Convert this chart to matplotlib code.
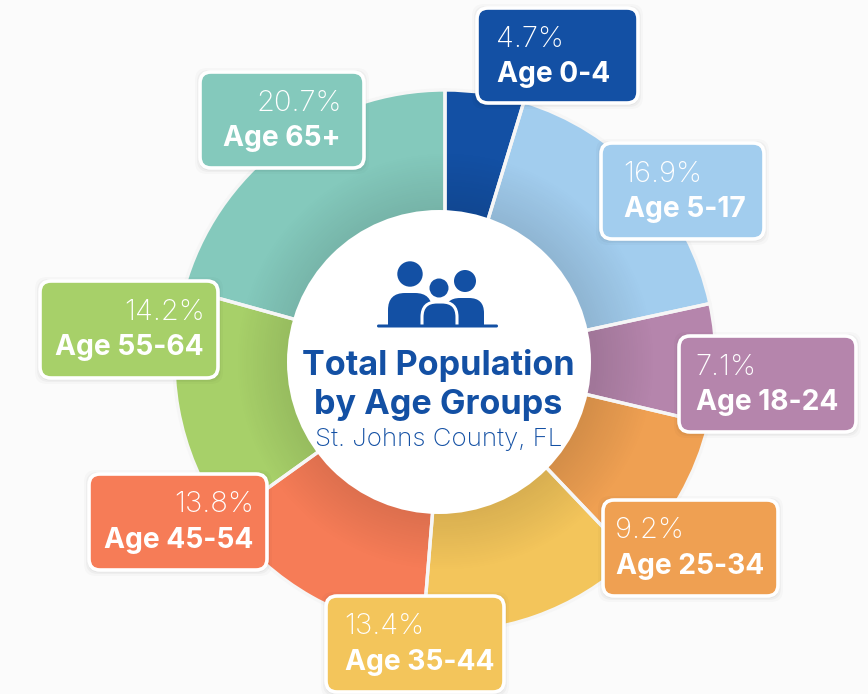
import numpy as np
import matplotlib
matplotlib.use("Agg")
import matplotlib.pyplot as plt
from matplotlib.patches import Circle, FancyBboxPatch
from matplotlib.path import Path
from matplotlib.patches import PathPatch

plt.rcParams['font.family'] = ['Inter', 'DejaVu Sans']

# data, clockwise from the top
groups = ["Age 0-4", "Age 5-17", "Age 18-24", "Age 25-34", "Age 35-44", "Age 45-54", "Age 55-64", "Age 65+"]
shares = [4.7, 16.9, 7.1, 9.2, 13.4, 13.8, 14.2, 20.7]
colors = ["#1350A4", "#A2CDEE", "#B585AC", "#EFA052", "#F3C55B", "#F67C57", "#A7D069", "#84C9BC"]

# label boxes in pixels: left, top, right, bottom, text x, text side
boxes = [
    (477, 8, 638, 103, 497, "left"),
    (601, 143, 764, 239, 624, "left"),
    (679, 336, 856, 432, 696, "left"),
    (603, 500, 778, 596, 616, "left"),
    (326, 596, 504, 692, 345, "left"),
    (89, 474, 267, 570, 253, "right"),
    (40, 281, 218, 378, 204, "right"),
    (200, 72, 364, 168, 341, "right"),
]

BLUE = "#1350A4"
CX, CY, R = 445, 361, 271

fig = plt.figure(figsize=(8.68, 6.94), dpi=100, facecolor="#FBFBFB")
ax = fig.add_axes([0, 0, 1, 1])

# y axis is flipped below, so counterclock here reads clockwise on screen
ax.pie(shares, colors=colors, startangle=-90, counterclock=True, center=(CX, CY), radius=R)

# dark shading towards the hole
xx, yy = np.meshgrid(np.arange(CX - R, CX + R), np.arange(CY - R, CY + R))
rr = np.hypot(xx - CX, yy - CY)
shade = np.zeros(rr.shape + (4,))
shade[..., 3] = 0.11 * np.clip(1 - (rr - 150) / 60, 0, 1)
im = ax.imshow(shade, extent=(CX - R, CX + R, CY + R, CY - R), zorder=2, interpolation="bilinear")
im.set_clip_path(Circle((CX, CY), R, transform=ax.transData))

# white gaps between the slices
ax.pie(shares, colors=["none"] * len(shares), startangle=-90, counterclock=True, center=(CX, CY), radius=R,
       wedgeprops=dict(edgecolor="#F6F6F6", linewidth=2.4, zorder=3))
for w in ax.patches[-len(shares):]:
    w.set_zorder(3)

# centre disc
ax.add_patch(Circle((439, 362), 152, fc="white", ec="none", zorder=4))


def body(x0, x1, top, bottom, rad):
    verts = [(x0, bottom), (x0, top + rad), (x0, top), (x0 + rad, top), (x1 - rad, top), (x1, top), (x1, top + rad),
             (x1, bottom), (x0, bottom)]
    codes = [Path.MOVETO, Path.LINETO, Path.CURVE3, Path.CURVE3, Path.LINETO, Path.CURVE3, Path.CURVE3,
             Path.LINETO, Path.CLOSEPOLY]
    return Path(verts, codes)


# family icon
ax.add_patch(Circle((410, 274), 12.7, fc=BLUE, zorder=5))
ax.add_patch(Circle((465, 281), 11, fc=BLUE, zorder=5))
ax.add_patch(Circle((439, 288), 9.5, fc=BLUE, zorder=5))
ax.add_patch(PathPatch(body(388, 432, 293, 326, 17), fc=BLUE, ec="none", zorder=5))
ax.add_patch(PathPatch(body(445, 484, 298, 326, 15), fc=BLUE, ec="none", zorder=5))
ax.add_patch(PathPatch(body(422, 457, 302, 328, 15), fc=BLUE, ec="white", lw=2.2, zorder=6))
ax.add_patch(FancyBboxPatch((377, 324.5), 121, 3, boxstyle="round,pad=0,rounding_size=1.5", fc=BLUE, ec="none", zorder=7))

ax.text(438.5, 365, "Total Population", color=BLUE, fontsize=24.6, fontweight="bold", ha="center", va="center", zorder=7)
ax.text(438.5, 404.5, "by Age Groups", color=BLUE, fontsize=24.6, fontweight="bold", ha="center", va="center", zorder=7)
ax.text(438.5, 439, "St. Johns County, FL", color=BLUE, fontsize=18.6, fontweight="light", ha="center", va="center", zorder=7)

# label boxes
for name, share, col, (l, t, r, b, tx, side) in zip(groups, shares, colors, boxes):
    for grow, a in [(5, 0.02), (3, 0.03), (1.5, 0.04)]:
        ax.add_patch(FancyBboxPatch((l - grow, t - grow + 1), r - l + 2 * grow, b - t + 2 * grow,
                                    boxstyle="round,pad=0,rounding_size=12", fc="black", ec="none", alpha=a, zorder=8))
    ax.add_patch(FancyBboxPatch((l, t), r - l, b - t, boxstyle="round,pad=0,rounding_size=11",
                                fc=col, ec="white", lw=2.6, zorder=9))
    # percent glyphs sit a little inside the bold line
    px = tx + 1 if side == "right" else tx - 1
    ax.text(px, t + 31, f"{share}%", color="white", fontsize=21, fontweight="light", ha=side, va="center", zorder=10)
    ax.text(tx, t + 66, name, color="white", fontsize=20.3, fontweight="bold", ha=side, va="center", zorder=10)

ax.set_xlim(0, 868)
ax.set_ylim(694, 0)
ax.set_aspect("auto")
ax.axis("off")

fig.savefig("out.png", dpi=100, facecolor=fig.get_facecolor())
